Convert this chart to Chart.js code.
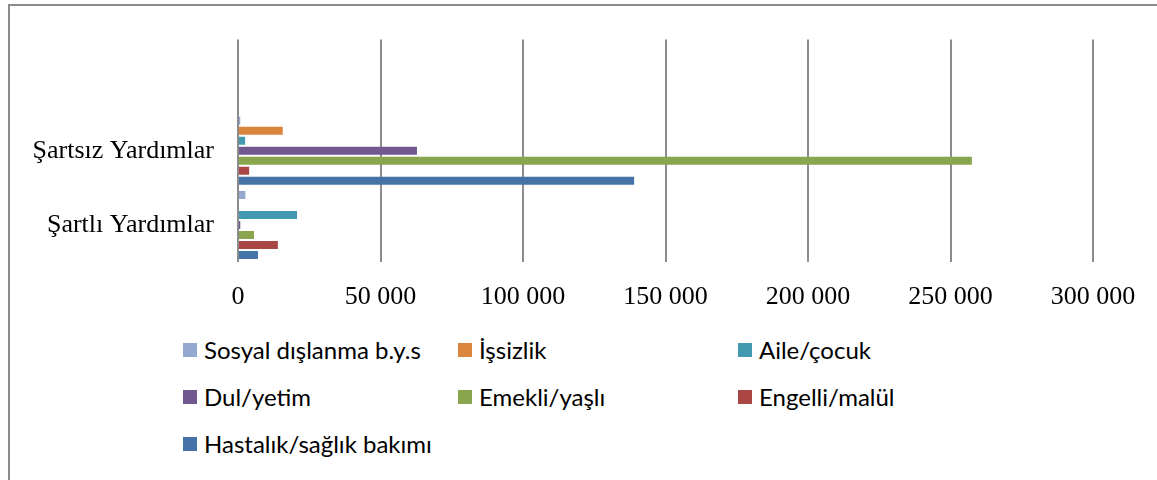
<!DOCTYPE html>
<html lang="tr">
<head>
<meta charset="utf-8">
<script src="https://cdn.jsdelivr.net/npm/chart.js@4"></script>
<style>
    body { margin: 0; background: #fff; }
    .frame {
        position: absolute; left: 8px; top: 4px; width: 1160px; height: 490px;
        border-top: 2px solid #8c8c8c; border-left: 2px solid #8c8c8c;
    }
    .chart-box { position: absolute; left: 0; top: 0; width: 1157px; height: 322px; }
    .legend {
        position: absolute; left: 183px; top: 326px;
        display: grid; grid-template-columns: 275px 280px 280px; grid-auto-rows: 47px;
        font-family: Lato, "Noto Sans", sans-serif; font-size: 24px; color: #000;
    }
    .legend div { display: flex; align-items: center; }
    .legend span.box { width: 14px; height: 14px; margin-right: 7px; display: inline-block; }
</style>
</head>
<body>
<div class="frame"></div>
<div class="chart-box"><canvas class="aid-chart"></canvas></div>
<div class="legend"></div>
<script>
// first category is blank in the source chart (empty band above)
const categories = ["", "Şartsız Yardımlar", "Şartlı Yardımlar"];
const seriesNames = [
    "Sosyal dışlanma b.y.s", "İşsizlik", "Aile/çocuk",
    "Dul/yetim", "Emekli/yaşlı", "Engelli/malül", "Hastalık/sağlık bakımı"
];
const sosyal = [null, 800, 2600];
const issizlik = [null, 15700, 0];
const aile = [null, 2500, 20700];
const dul = [null, 62800, 800];
const emekli = [null, 257500, 5600];
const engelli = [null, 3900, 14000];
const hastalik = [null, 139000, 7000];
const xTicks = [0, 50000, 100000, 150000, 200000, 250000, 300000];

const colors = ["#93A9CF", "#DB843D", "#4198AF", "#71588F", "#89A54E", "#AA4643", "#4572A7"];
const values = [sosyal, issizlik, aile, dul, emekli, engelli, hastalik];

Chart.defaults.font.family = "'Liberation Serif', 'Times New Roman', serif";
Chart.defaults.color = "#000";

const fmt = v => String(v).replace(/\B(?=(\d{3})+(?!\d))/g, " ");

const datasets = seriesNames.map((name, i) => ({
    label: name,
    data: values[i],
    backgroundColor: colors[i],
    borderWidth: 0,
    categoryPercentage: 0.945,
    barPercentage: 0.8
}));

new Chart(document.querySelector(".aid-chart").getContext("2d"), {
    type: "bar",
    data: { labels: categories, datasets },
    options: {
        indexAxis: "y",
        responsive: true,
        maintainAspectRatio: false,
        animation: false,
        layout: { padding: { top: 31, right: 64, left: 0, bottom: 0 } },
        scales: {
            x: {
                min: 0,
                max: 300000,
                afterBuildTicks: s => { s.ticks = xTicks.map(v => ({ value: v })); },
                afterFit: s => { s.height = 60; },
                grid: { color: "#8c8c8c", lineWidth: 2, drawTicks: false },
                border: { display: false },
                ticks: { padding: 20, font: { size: 26 }, callback: v => fmt(v) }
            },
            y: {
                afterFit: s => { s.width = 238; },
                grid: { display: false, drawTicks: false },
                border: { display: false },
                ticks: { padding: 24, font: { size: 26 } }
            }
        },
        plugins: {
            legend: { display: false },
            tooltip: { enabled: false }
        }
    }
});

// legend laid out in three columns like the original
const legendEl = document.querySelector(".legend");
seriesNames.forEach((name, i) => {
    const item = document.createElement("div");
    const box = document.createElement("span");
    box.className = "box";
    box.style.background = colors[i];
    item.appendChild(box);
    item.appendChild(document.createTextNode(name));
    legendEl.appendChild(item);
});
</script>
</body>
</html>
